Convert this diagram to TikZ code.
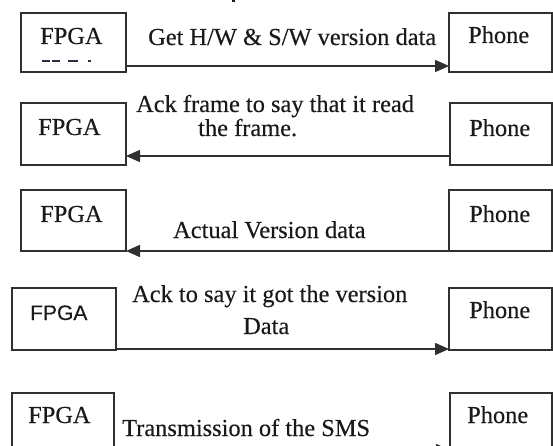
\documentclass[tikz,border=0pt]{standalone}
\usepackage{fontspec}
\setmainfont{Liberation Serif}[BoldFont={Liberation Serif},BoldFeatures={FakeBold=0.3}]
\newfontfamily\arialfont{Liberation Sans}[BoldFont={Liberation Sans},BoldFeatures={FakeBold=0.3}]
\usetikzlibrary{arrows.meta}
\definecolor{ink}{HTML}{1A1A1A}
\definecolor{boxgray}{HTML}{303030}
\definecolor{dashink}{HTML}{2A3040}

\begin{document}
\begin{tikzpicture}[x=1pt,y=-1pt,
  box/.style={draw=boxgray, line width=1.6pt, inner sep=0pt, outer sep=0pt, anchor=north west},
  lbl/.style={anchor=base west, inner sep=0pt, text=ink, font=\bfseries\fontsize{24.4}{28}\selectfont},
  msg/.style={draw=boxgray, line width=1.6pt, -{Triangle[length=14pt,width=12pt]}},
]
\clip (0,0) rectangle (553,446);
\fill[white] (0,0) rectangle (553,446);

% small speck at the top edge
\fill[ink] (232,0) rectangle (235,2);

% ---- row 1 ----
\node[box, minimum width=105pt, minimum height=59pt] (f1) at (21,13) {};
\node[box, minimum width=103pt, minimum height=59pt] (p1) at (449,13) {};
\node[lbl] (tf1) at (40,44) {FPGA};
\node[lbl] (tp1) at (468,43) {Phone};
\node[lbl] (m1) at (148,45) {Get H/W \& S/W version data};
\draw[dashink, line width=2pt] (42,61) -- (50,61) (52,61) -- (60,61) (68,61) -- (78,61) (88,61) -- (91,61);
\coordinate (y1) at (0,66);
\draw[msg] (f1.east |- y1) -- (p1.west |- y1);

% ---- row 2 ----
\node[box, minimum width=105pt, minimum height=62pt] (f2) at (21,103) {};
\node[box, minimum width=102pt, minimum height=62pt] (p2) at (450,103) {};
\node[lbl] (tf2) at (38,135) {FPGA};
\node[lbl] (tp2) at (469,136) {Phone};
\node[lbl] (m2a) at (136,112) {Ack frame to say that it read};
\node[lbl] (m2b) at (198,136) {the frame.};
\coordinate (y2) at (0,156);
\draw[msg] (p2.west |- y2) -- (f2.east |- y2);

% ---- row 3 ----
\node[box, minimum width=105pt, minimum height=61pt] (f3) at (21,190) {};
\node[box, minimum width=103pt, minimum height=61pt] (p3) at (449,190) {};
\node[lbl] (tf3) at (40,222) {FPGA};
\node[lbl] (tp3) at (469,222) {Phone};
\node[lbl] (m3) at (173,238) {Actual Version data};
\coordinate (y3) at (0,251);
\draw[msg] (p3.west |- y3) -- (f3.east |- y3);

% ---- row 4 ----
\node[box, minimum width=104pt, minimum height=62pt] (f4) at (12,288) {};
\node[box, minimum width=103pt, minimum height=62pt] (p4) at (449,288) {};
\node[lbl, font=\arialfont\bfseries\fontsize{21}{25}\selectfont] (tf4) at (30,320) {FPGA};
\node[lbl] (tp4) at (469,318) {Phone};
\node[lbl] (m4a) at (132,302) {Ack to say it got the version};
\node[lbl] (m4b) at (243,334) {Data};
\coordinate (y4) at (0,349);
\draw[msg] (f4.east |- y4) -- (p4.west |- y4);

% ---- row 5 ----
\node[box, minimum width=102pt, minimum height=70pt] (f5) at (12,393) {};
\node[box, minimum width=102pt, minimum height=70pt] (p5) at (450,393) {};
\node[lbl] (tf5) at (28,423) {FPGA};
\node[lbl] (tp5) at (467,423) {Phone};
\node[lbl] (m5) at (122,436) {Transmission of the SMS};
\coordinate (y5) at (0,450);
\draw[msg] (f5.east |- y5) -- (p5.west |- y5);
\end{tikzpicture}
\end{document}
